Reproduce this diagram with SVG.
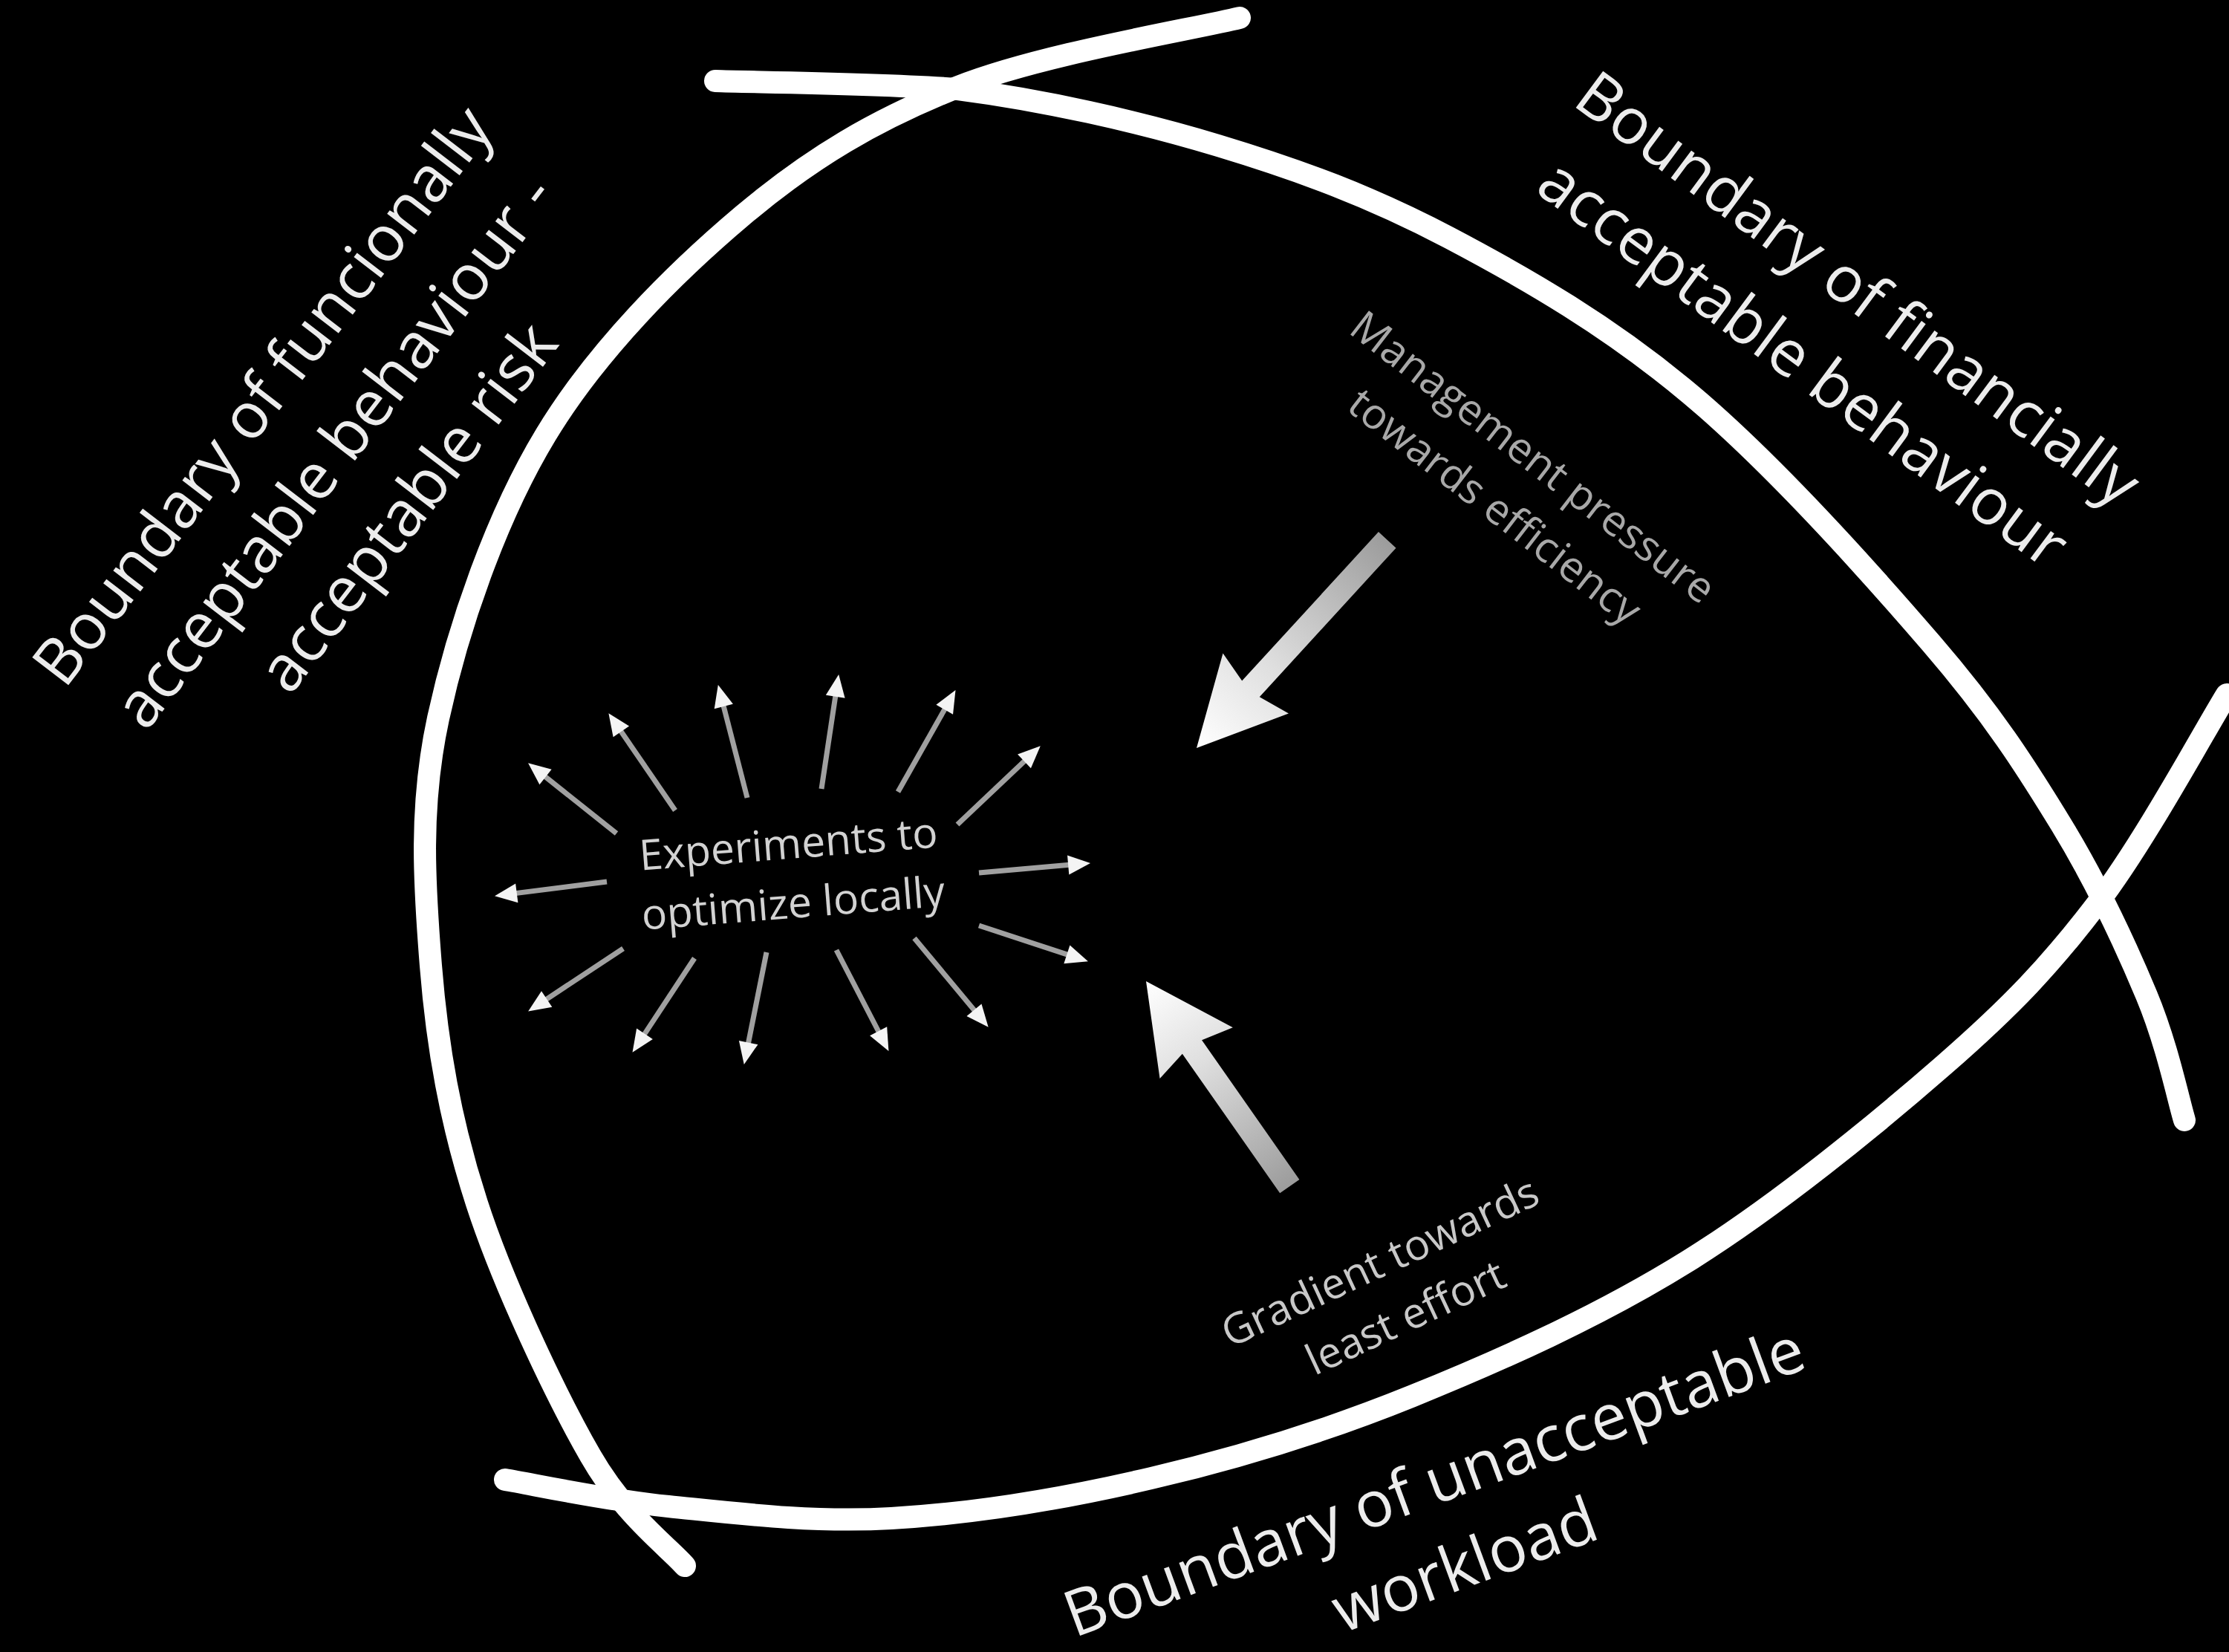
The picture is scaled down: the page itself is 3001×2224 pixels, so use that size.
<svg xmlns="http://www.w3.org/2000/svg" width="3001" height="2224" viewBox="0 0 3001 2224">
<defs>
<style>
.boundary{fill:none;stroke:#ffffff;stroke-width:30;stroke-linecap:round}
.lbl{font-family:'Open Sans','Liberation Sans',sans-serif;font-size:86px;fill:#ececec;text-anchor:middle}
.sm{font-family:'Open Sans','Liberation Sans',sans-serif;font-size:57px;text-anchor:middle}
.ray{fill:none;stroke:#a0a0a0;stroke-width:7;marker-end:url(#ah)}
.bigarrow{fill:url(#bigGrad)}
</style>
<marker id="ah" markerUnits="userSpaceOnUse" markerWidth="40" markerHeight="40" viewBox="-20 -20 40 40" refX="0" refY="0" orient="auto">
<path d="M-16,-13 L14,0 L-16,13 Z" fill="#f4f4f4"/>
</marker>
<linearGradient id="bigGrad" x1="0" y1="0" x2="1" y2="0">
<stop offset="0" stop-color="#9c9c9c"/>
<stop offset="0.6" stop-color="#dedede"/>
<stop offset="1" stop-color="#ffffff"/>
</linearGradient>
</defs>
<rect x="0" y="0" width="3001" height="2224" fill="#000000"/>

<g id="boundaries">
<path id="boundary-functional" class="boundary" d="M1669,24 C1605.8,39.5 1401.5,72.7 1290,117 C1178.5,161.3 1092.5,212 1000,290 C907.5,368 803.3,472.2 735,585 C666.7,697.8 615.8,847.8 590,967 C564.2,1086.2 571.3,1191.2 580,1300 C588.7,1408.8 606.2,1510 642,1620 C677.8,1730 748.3,1878.7 795,1960 C841.7,2041.3 900.8,2083.3 922,2108"/>
<path id="boundary-financial" class="boundary" d="M963,109 C1017.5,110.8 1180,112 1290,120 C1402.8,134.5 1529.8,162.7 1640,196 C1750.2,229.3 1845,264.2 1951,320 C2057,375.8 2167.8,440 2276,531 C2384.2,622 2516.8,769.5 2600,866 C2683.2,962.5 2726.7,1031 2775,1110 C2823.3,1189 2862.3,1273.7 2890,1340 C2917.7,1406.3 2932.5,1480 2941,1508"/>
<path id="boundary-workload" class="boundary" d="M680,1992 C716.7,1998 813.3,2019.3 900,2028 C986.7,2036.7 1091.7,2050.3 1200,2044 C1308.3,2037.7 1433.3,2017.3 1550,1990 C1666.7,1962.7 1779.7,1928.7 1900,1880 C2020.3,1831.3 2152.5,1772.3 2272,1698 C2391.5,1623.7 2525,1514.3 2617,1434 C2709,1353.7 2760.5,1299.2 2824,1216 C2887.5,1132.8 2969,981.8 2998,935"/>
</g>

<g id="label-functional" transform="translate(377,551) rotate(-52.5)">
<text class="lbl" x="0" y="0">Boundary of funcionally</text>
<text class="lbl" x="0" y="122">acceptable behaviour -</text>
<text class="lbl" x="0" y="246">acceptable risk</text>
</g>

<g id="label-financial" transform="translate(2484,413) rotate(36.5)">
<text class="lbl" x="0" y="0">Boundary of financially</text>
<text class="lbl" x="0" y="124">acceptable behaviour</text>
</g>

<g id="label-workload" transform="translate(1941,2023) rotate(-20.2)">
<text class="lbl" x="0" y="0">Boundary of unacceptable</text>
<text class="lbl" x="0" y="119">workload</text>
</g>

<g id="label-management" transform="translate(2052,631) rotate(37.7)">
<text class="sm" x="0" y="0" fill="#a8a8a8">Management pressure</text>
<text class="sm" x="0" y="84" fill="#a8a8a8">towards efficiency</text>
</g>

<g id="label-gradient" transform="translate(1866,1717) rotate(-25)">
<text class="sm" x="0" y="0" fill="#c8c8c8">Gradient towards</text>
<text class="sm" x="0" y="82" fill="#c8c8c8">least effort</text>
</g>

<g id="node-experiments" transform="translate(1063,1156) rotate(-4.5)">
<text class="sm" x="0" y="0" fill="#d2d2d2">Experiments to</text>
<text class="sm" x="0" y="80" fill="#d2d2d2">optimize locally</text>
</g>

<g id="arrow-management" transform="translate(1611,1007) rotate(132.5)">
<path class="bigarrow" d="M0,0 L-118,-60 L-108,-16 L-380,-16 L-380,16 L-108,16 L-118,60 Z"/>
</g>

<g id="arrow-gradient" transform="translate(1543,1321) rotate(-125)">
<path class="bigarrow" d="M0,0 L-118,-60 L-108,-16 L-337,-16 L-337,16 L-108,16 L-118,60 Z"/>
</g>

<g id="connectors">
<line class="ray" x1="830" y1="1122" x2="722" y2="1036"/>
<line class="ray" x1="909" y1="1091" x2="827.3" y2="971.7"/>
<line class="ray" x1="1006" y1="1074" x2="970.3" y2="935.6"/>
<line class="ray" x1="1106" y1="1062" x2="1127.1" y2="921.9"/>
<line class="ray" x1="1209" y1="1066" x2="1279.6" y2="941.3"/>
<line class="ray" x1="1289" y1="1110" x2="1390.6" y2="1013.9"/>
<line class="ray" x1="1318" y1="1175" x2="1454.1" y2="1163.1"/>
<line class="ray" x1="1318" y1="1246" x2="1451.6" y2="1289.9"/>
<line class="ray" x1="1231" y1="1263" x2="1321.7" y2="1372"/>
<line class="ray" x1="1126" y1="1279" x2="1190" y2="1402.5"/>
<line class="ray" x1="1032" y1="1282" x2="1004.5" y2="1419.3"/>
<line class="ray" x1="935" y1="1290" x2="859.2" y2="1405.1"/>
<line class="ray" x1="839" y1="1277" x2="722.8" y2="1353.8"/>
<line class="ray" x1="817" y1="1187" x2="679.9" y2="1204.4"/>
</g>
</svg>
